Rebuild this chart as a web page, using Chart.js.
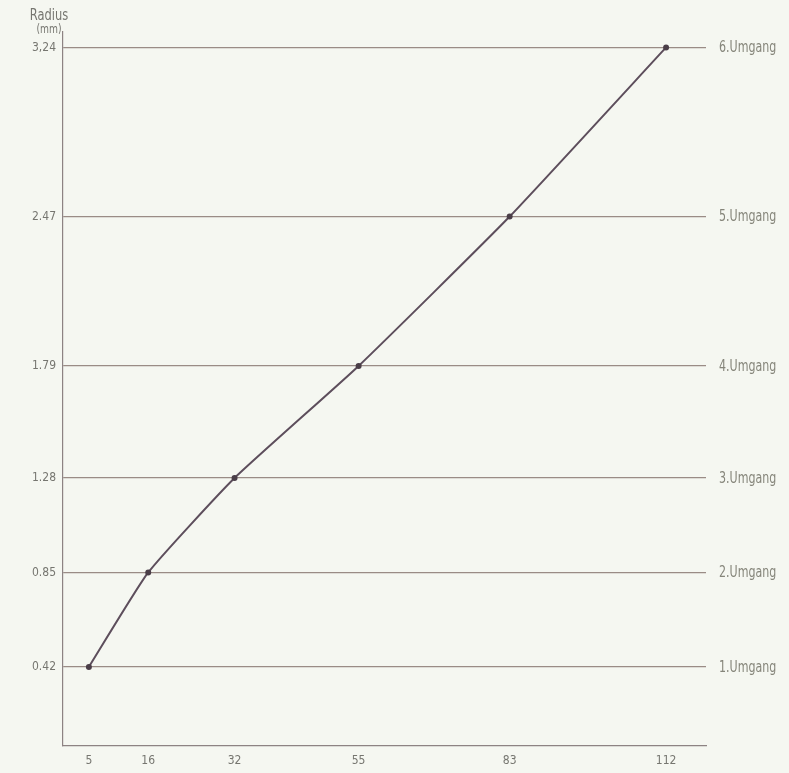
<!DOCTYPE html>
<html>
<head>
<meta charset="utf-8">
<script src="https://cdn.jsdelivr.net/npm/chart.js@4"></script>
<style>
  html, body { margin: 0; padding: 0; background: #f5f7f1; }
  #wrap { width: 789px; height: 773px; }
</style>
</head>
<body>
<div id="wrap"><canvas id="chart" width="789" height="773"></canvas></div>
<script>
// Kammerzahl (x) und Radius in mm (y) je Umgang
const kammerzahl = [5, 16, 32, 55, 83, 112];
const radius = [0.42, 0.85, 1.28, 1.79, 2.47, 3.24];
const radiusLabels = ["0.42", "0.85", "1.28", "1.79", "2.47", "3,24"];
const umgang = ["1.Umgang", "2.Umgang", "3.Umgang", "4.Umgang", "5.Umgang", "6.Umgang"];

const schrift = "'Liberation Sans Narrow', 'DejaVu Sans Condensed', 'Roboto', sans-serif";
const linienFarbe = "#9a8c86";
const textFarbe = "#767670";

// schmal gestauchter Text
function schmal(ctx, text, x, y, sx) {
  ctx.save();
  ctx.translate(x, y);
  ctx.scale(sx, 1);
  ctx.fillText(text, 0, 0);
  ctx.restore();
}

// Beschriftungen rechts und Achsentitel
const beschriftung = {
  id: "beschriftung",
  afterDraw(chart) {
    const ctx = chart.ctx;
    const y = chart.scales.y;
    const x = chart.scales.x;
    ctx.save();
    ctx.fillStyle = "#85857a";
    ctx.font = "15px " + schrift;
    ctx.textAlign = "left";
    ctx.textBaseline = "middle";
    radius.forEach((r, i) => {
      schmal(ctx, umgang[i], 719, y.getPixelForValue(r) + 1, 0.82);
    });

    ctx.fillStyle = "#7c6e7a";
    schmal(ctx, "Kammerzahl", 716, x.bottom + 16, 0.82);

    ctx.fillStyle = textFarbe;
    ctx.textAlign = "center";
    ctx.font = "15px " + schrift;
    schmal(ctx, "Radius", 49, 16, 0.85);
    ctx.font = "12px " + schrift;
    schmal(ctx, "(mm)", 49, 30, 0.85);
    ctx.restore();
  }
};

new Chart(document.getElementById("chart"), {
  type: "line",
  data: {
    datasets: [{
      data: kammerzahl.map((k, i) => ({ x: k, y: radius[i] })),
      borderColor: "#5d4e5c",
      borderWidth: 2,
      pointRadius: 3,
      pointBackgroundColor: "#4a3e48",
      pointBorderWidth: 0,
      tension: 0.15
    }]
  },
  options: {
    responsive: false,
    animation: false,
    layout: { padding: { left: 0, top: 32, right: 83, bottom: 0 } },
    plugins: { legend: { display: false }, tooltip: { enabled: false } },
    scales: {
      x: {
        type: "linear",
        min: 0.2,
        max: 119.4,
        afterBuildTicks: s => { s.ticks = kammerzahl.map(v => ({ value: v })); },
        afterFit: s => { s.height = 27; },
        grid: { display: false, drawTicks: false },
        border: { color: "#8d8383", width: 1.2 },
        ticks: {
          padding: 8,
          color: textFarbe,
          font: { family: schrift, size: 12 },
          maxRotation: 0,
          callback: v => String(v)
        }
      },
      y: {
        type: "linear",
        min: 0.06,
        max: 3.31,
        afterBuildTicks: s => { s.ticks = radius.map(v => ({ value: v })); },
        afterFit: s => { s.width = 63; },
        grid: { color: linienFarbe, lineWidth: 1.2, drawTicks: false },
        border: { color: "#8d8383", width: 1.2 },
        ticks: {
          padding: 7,
          color: textFarbe,
          font: { family: schrift, size: 12 },
          callback: (v, i) => radiusLabels[i]
        }
      }
    }
  },
  plugins: [beschriftung]
});
</script>
</body>
</html>
